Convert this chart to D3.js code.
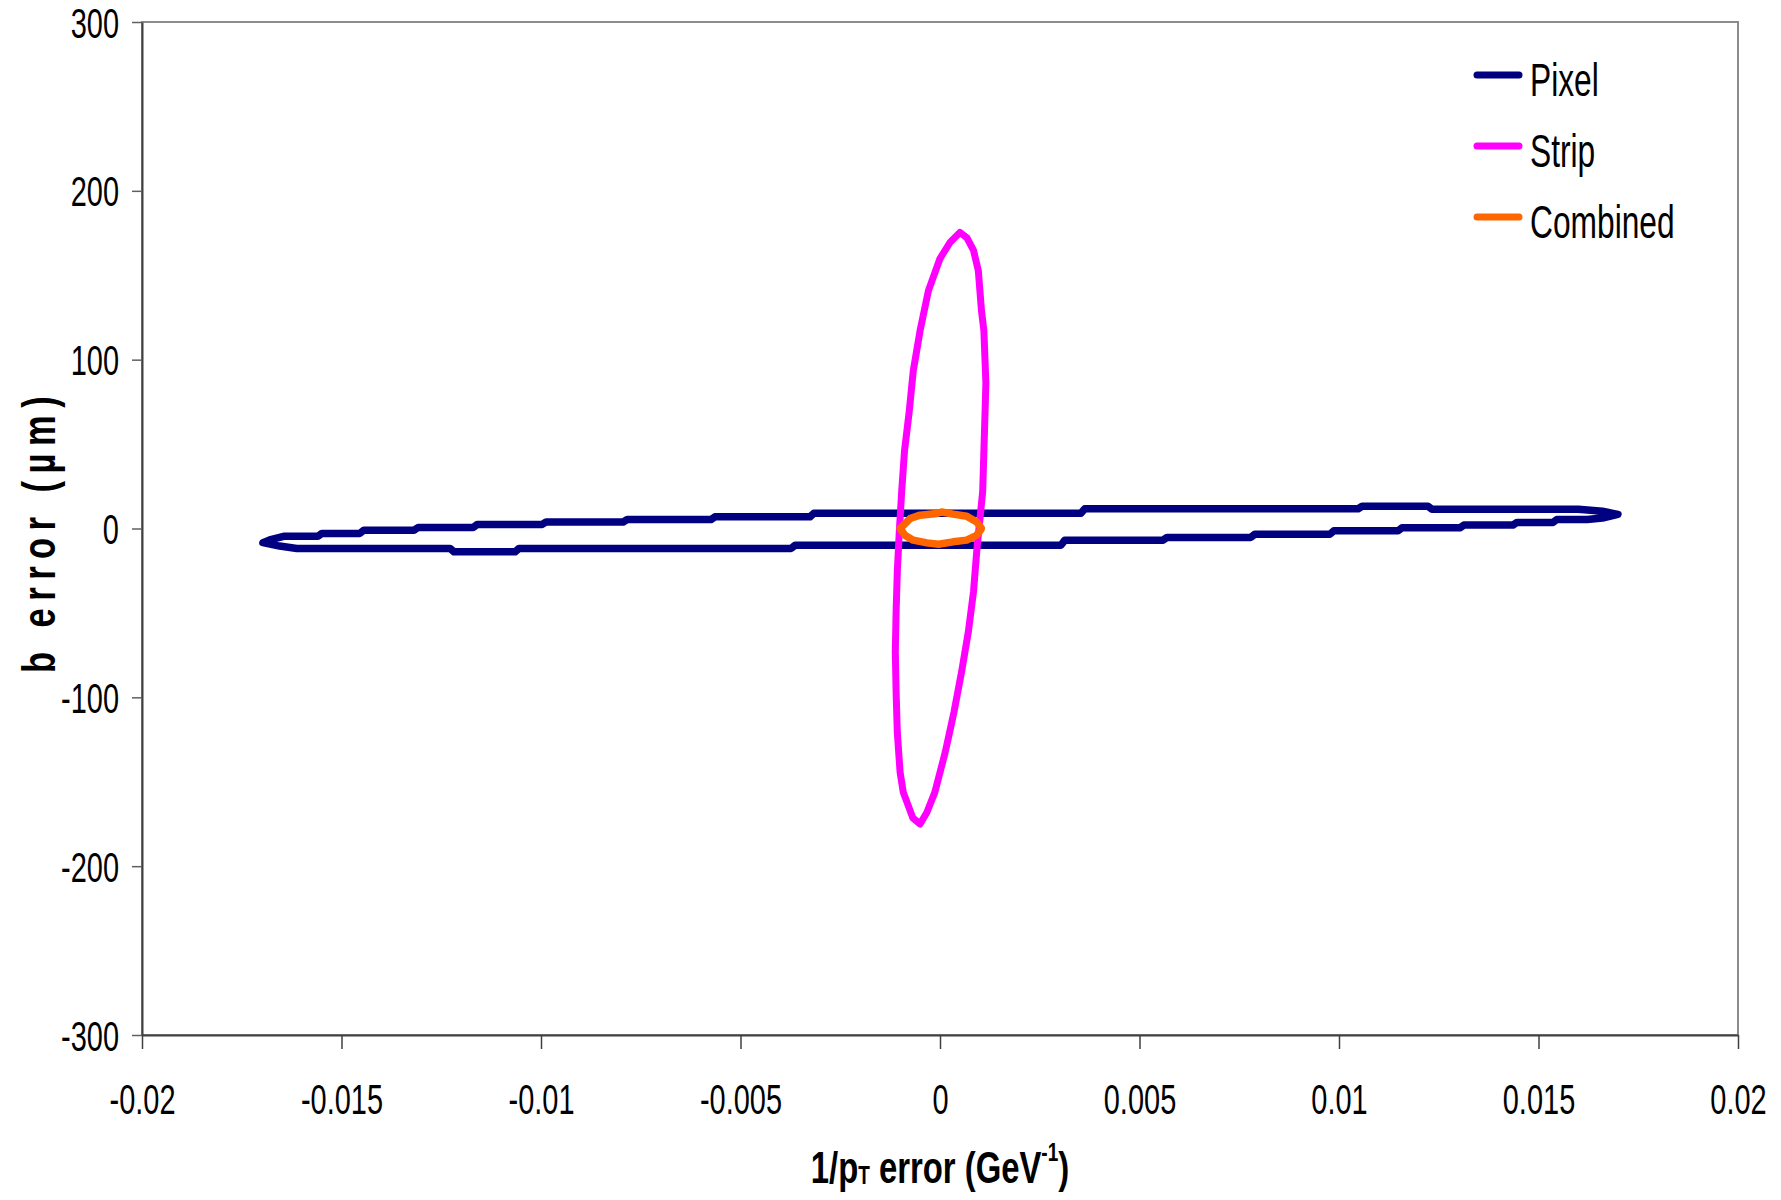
<!DOCTYPE html>
<html>
<head>
<meta charset="utf-8">
<script src="https://cdn.jsdelivr.net/npm/d3@7"></script>
<style>
  html, body { margin: 0; padding: 0; background: #ffffff; }
  svg { display: block; }
  text { font-family: "Liberation Sans", Arial, Helvetica, sans-serif; fill: #000; }
</style>
</head>
<body>
<svg id="chart" width="1781" height="1200"></svg>
<script>
// Axis ticks and labels
const xTicks = [-0.02, -0.015, -0.01, -0.005, 0, 0.005, 0.01, 0.015, 0.02];
const xTickLabels = ["-0.02", "-0.015", "-0.01", "-0.005", "0", "0.005", "0.01", "0.015", "0.02"];
const yTicks = [300, 200, 100, 0, -100, -200, -300];
const yTickLabels = ["300", "200", "100", "0", "-100", "-200", "-300"];

const seriesNames = ["Pixel", "Strip", "Combined"];
const seriesColors = ["#000080", "#FF00FF", "#FF6600"];

// Error contours: [1/pT error (GeV^-1), b error (um)]
const pixelEllipse = [
  [-0.01697, -8.4], [-0.01680, -6.8], [-0.01645, -4.6], [-0.01559, -4.6],
  [-0.01549, -2.9], [-0.01454, -2.9], [-0.01444, -1.0], [-0.01318, -1.0],
  [-0.01308, 0.6], [-0.01170, 0.6], [-0.01160, 2.4], [-0.00997, 2.4],
  [-0.00987, 3.9], [-0.00794, 3.9], [-0.00784, 5.3], [-0.00574, 5.3],
  [-0.00564, 6.9], [-0.00326, 6.9], [-0.00316, 9.0], [0.00353, 9.0],
  [0.00363, 11.7], [0.01048, 11.7], [0.01058, 13.2], [0.01223, 13.2],
  [0.01233, 11.4], [0.01600, 11.4], [0.01660, 10.2], [0.01699, 8.4],
  [0.01660, 6.2], [0.01622, 5.3], [0.01546, 5.3], [0.01536, 3.6],
  [0.01446, 3.6], [0.01436, 2.0], [0.01313, 2.0], [0.01303, 0.4],
  [0.01158, 0.4], [0.01148, -1.4], [0.00987, -1.4], [0.00977, -3.4],
  [0.00789, -3.4], [0.00779, -5.3], [0.00569, -5.3], [0.00559, -6.9],
  [0.00313, -6.9], [0.00303, -9.9], [-0.00363, -9.9], [-0.00373, -11.8],
  [-0.01055, -11.8], [-0.01065, -13.8], [-0.01218, -13.8], [-0.01228, -11.8],
  [-0.01612, -11.8], [-0.01655, -10.4]
];

const stripEllipse = [
  [0.00050, 175.4], [0.00068, 172.0], [0.00084, 164.7], [0.00096, 152.8],
  [0.00104, 129.0], [0.00110, 117.1], [0.00115, 86.2], [0.00113, 69.6],
  [0.00110, 45.8], [0.00107, 22.0], [0.00100, 5.4], [0.00092, -13.7],
  [0.00084, -37.4], [0.00071, -61.2], [0.00054, -85.0], [0.00035, -108.8],
  [0.00013, -132.6], [-0.00013, -156.3], [-0.00033, -168.2], [-0.00050, -175.0],
  [-0.00068, -171.5], [-0.00092, -156.3], [-0.00100, -144.4], [-0.00107, -120.7],
  [-0.00110, -96.9], [-0.00112, -73.1], [-0.00110, -49.3], [-0.00107, -25.5],
  [-0.00102, -1.8], [-0.00096, 22.0], [-0.00089, 45.8], [-0.00077, 69.6],
  [-0.00067, 93.4], [-0.00050, 117.1], [-0.00029, 140.9], [0.00000, 159.9],
  [0.00025, 169.4]
];

const combinedEllipse = [
  [-0.00100, 0.0], [-0.00075, 5.9], [-0.00050, 7.9], [-0.00008, 8.9],
  [0.00004, 9.8], [0.00033, 8.5], [0.00067, 7.3], [0.00092, 3.9],
  [0.00104, 0.0], [0.00092, -4.0], [0.00067, -6.9], [0.00033, -7.9],
  [-0.00004, -9.3], [-0.00033, -8.5], [-0.00067, -6.9], [-0.00088, -4.0]
];

const seriesData = [pixelEllipse, stripEllipse, combinedEllipse];
const seriesWidths = [7.5, 7, 7.5];

// Layout
const plot = { left: 142, right: 1738, top: 22, bottom: 1035 };
const svg = d3.select("#chart");
svg.append("rect").attr("width", 1781).attr("height", 1200).attr("fill", "#fff");

const x = d3.scaleLinear().domain([-0.02, 0.02]).range([plot.left, plot.right]);
const y = d3.scaleLinear().domain([-300, 300]).range([plot.bottom, plot.top]);

// Plot-area frame
svg.append("rect")
  .attr("x", plot.left).attr("y", plot.top)
  .attr("width", plot.right - plot.left).attr("height", plot.bottom - plot.top)
  .attr("fill", "none").attr("stroke", "#8c8c8c").attr("stroke-width", 2);

// Horizontal squeeze gives the tall, condensed lettering
const TICK_SQUEEZE = 0.69;
const LEGEND_SQUEEZE = 0.69;

// Y axis
const yAxis = svg.append("g")
  .attr("transform", `translate(${plot.left},0)`)
  .call(d3.axisLeft(y).tickValues(yTicks)
    .tickFormat((d, i) => yTickLabels[i]).tickSize(10).tickSizeOuter(0));
yAxis.select(".domain").attr("stroke", "#404040").attr("stroke-width", 2);
yAxis.selectAll(".tick line").attr("stroke", "#606060").attr("stroke-width", 1.5);
yAxis.selectAll(".tick text")
  .attr("x", null).attr("dy", "0.36em")
  .attr("transform", `translate(-23,0) scale(${TICK_SQUEEZE},1)`)
  .attr("text-anchor", "end")
  .style("font-size", "42px").style("font-family", "'Liberation Sans', Arial, sans-serif").attr("fill", "#000");

// X axis
const xAxis = svg.append("g")
  .attr("transform", `translate(0,${plot.bottom})`)
  .call(d3.axisBottom(x).tickValues(xTicks)
    .tickFormat((d, i) => xTickLabels[i]).tickSize(14).tickSizeOuter(0));
xAxis.select(".domain").attr("stroke", "#404040").attr("stroke-width", 2);
xAxis.selectAll(".tick line").attr("stroke", "#404040").attr("stroke-width", 1.5);
xAxis.selectAll(".tick text")
  .attr("y", null).attr("dy", null)
  .attr("transform", `translate(0,79) scale(${TICK_SQUEEZE},1)`)
  .attr("text-anchor", "middle")
  .style("font-size", "42px").style("font-family", "'Liberation Sans', Arial, sans-serif").attr("fill", "#000");

// Contours
const line = d3.line()
  .x(d => x(d[0]))
  .y(d => y(d[1]))
  .curve(d3.curveLinearClosed);

svg.append("g").selectAll("path")
  .data(seriesData)
  .join("path")
  .attr("d", line)
  .attr("fill", "none")
  .attr("stroke", (d, i) => seriesColors[i])
  .attr("stroke-width", (d, i) => seriesWidths[i])
  .attr("stroke-linejoin", "round")
  .attr("stroke-linecap", "round");

// Legend
const legend = svg.append("g");
const legendRows = seriesNames.map((name, i) => ({ name, color: seriesColors[i], i }));
const legendY = d3.scalePoint().domain(seriesNames).range([75, 217]);
legend.selectAll("line")
  .data(legendRows)
  .join("line")
  .attr("x1", 1477).attr("x2", 1519)
  .attr("y1", d => legendY(d.name)).attr("y2", d => legendY(d.name))
  .attr("stroke", d => d.color).attr("stroke-width", 7).attr("stroke-linecap", "round");
legend.selectAll("text")
  .data(legendRows)
  .join("text")
  .attr("transform", d => `translate(1530,${legendY(d.name) + 21}) scale(${LEGEND_SQUEEZE},1)`)
  .style("font-size", "46px")
  .text(d => d.name);

// X axis title
const xTitle = svg.append("text")
  .attr("transform", `translate(940,1183) scale(0.73,1)`)
  .attr("text-anchor", "middle")
  .style("font-size", "45px").style("font-weight", "bold");
xTitle.append("tspan").text("1/p");
xTitle.append("tspan").style("font-size", "26px").attr("dy", 1).text("T");
xTitle.append("tspan").attr("dy", -1).text(" error (GeV");
xTitle.append("tspan").style("font-size", "26px").attr("dy", -22).text("-1");
xTitle.append("tspan").attr("dy", 22).text(")");

// Y axis title
svg.append("text")
  .attr("transform", `translate(55,531) rotate(-90) scale(0.75,1)`)
  .attr("text-anchor", "middle")
  .style("font-size", "46px").style("font-weight", "bold")
  .style("letter-spacing", "10px")
  .text("b error (\u00B5m)");
</script>
</body>
</html>
